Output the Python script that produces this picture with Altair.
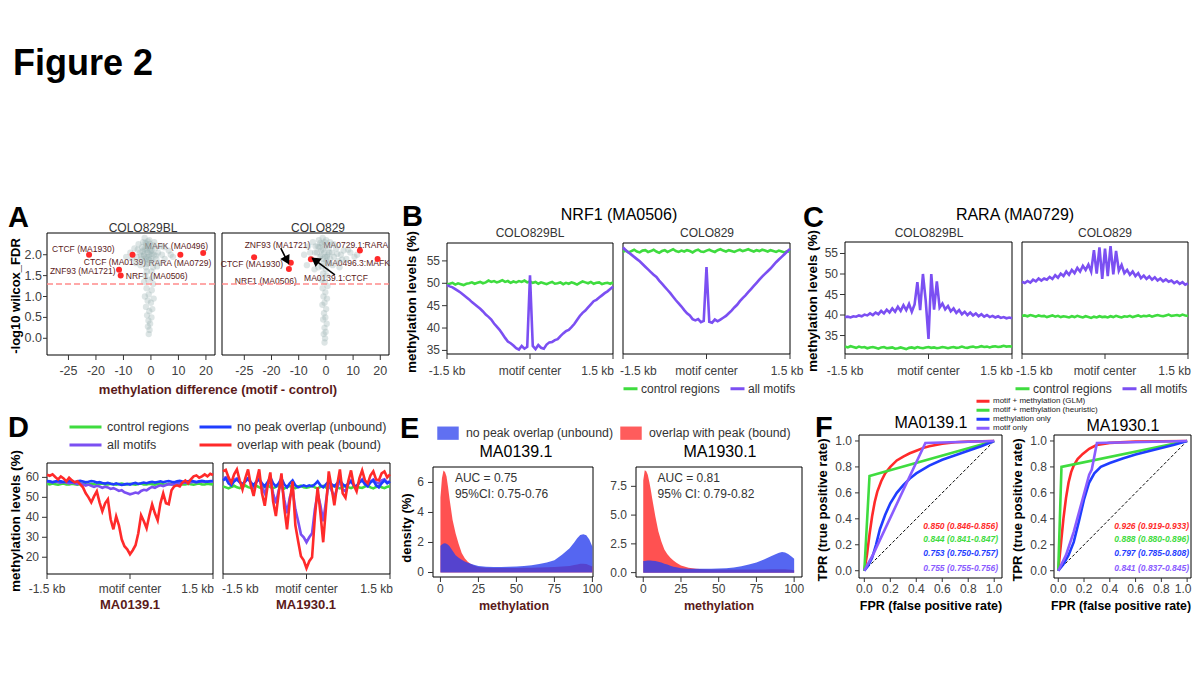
import altair as alt
import pandas as pd

W, H = 1184, 659                     # whole page minus the 8px body margin
FONT = "Liberation Sans"
GREEN, PURPLE, BLUE, RED = "#3fdc3f", "#7b4ff2", "#1f3dff", "#ff2a2a"
DARKRED = "#5a1a1a"
TICKLAB = "#404040"

positions = list(range(-1500, 1501, 50))   # bp around the motif centre (B, C, D)

# ---------------- A: methylation difference vs significance ----------------
a_bl_cloud_x = [-7.5, -6.0, -5.2, -4.5, -4.0, -3.5, -3.2, -2.8, -2.5, -2.2,
                -2.0, -1.7, -1.5, -1.2, -1.0, -0.8, -0.5, -0.3, 0.0, 0.3,
                0.6, 1.0, 1.5, 2.0, 2.6, 3.2, 4.0, 5.0, 6.5, 8.0,
                -9.0, -3.8, -1.8, 0.8, 2.2, -0.6, -2.3, 1.2, -5.5, 3.5,
                -3.0, -2.6, -2.0, -1.4, -0.9, -0.4, 0.4, -1.1, -2.4, -0.2,
                -3.6, 1.8, -4.8, -1.9, 0.9, -6.8, 4.8, 7.2, -0.7, -1.3,
                -1.5, 0.2, -2.0, 0.5, -1.0, -2.5, 0.8, -1.6, 0.3, -0.8,
                -2.2, 1.0, -1.2, 0.0, -1.8, 0.5, -0.6, -1.4, 0.2, -0.9,
                -0.3, -1.1, -0.5, -0.8]
a_bl_cloud_y = [2.05, 2.15, 1.95, 2.25, 2.05, 1.90, 2.18, 2.30, 2.00, 1.85,
                2.12, 2.25, 1.95, 2.05, 2.20, 1.80, 2.00, 2.15, 1.90, 2.10,
                1.85, 2.00, 2.15, 1.90, 2.05, 1.80, 2.00, 1.90, 2.10, 1.95,
                1.95, 1.75, 1.70, 1.70, 1.72, 2.35, 2.40, 2.30, 1.80, 2.20,
                2.08, 1.98, 2.28, 2.12, 1.95, 2.26, 2.02, 2.32, 2.14, 2.08,
                1.98, 1.98, 2.12, 1.90, 2.22, 1.92, 2.18, 2.00, 1.88, 1.78,
                1.60, 1.60, 1.50, 1.45, 1.40, 1.35, 1.30, 1.20, 1.15, 1.05,
                1.00, 0.95, 0.90, 0.85, 0.75, 0.70, 0.65, 0.55, 0.50, 0.42,
                0.35, 0.28, 0.20, 0.10]
a_c_cloud_x = [-8.0, -6.5, -5.5, -4.8, -4.0, -3.5, -3.0, -2.6, -2.2, -1.8,
               -1.4, -1.0, -0.6, -0.2, 0.2, 0.6, 1.0, 1.6, 2.2, 3.0,
               3.8, 4.5, 5.5, 6.5, 7.5, 9.0, 10.5, -7.0, -2.8, 0.0,
               2.5, -1.2, 1.5, -4.2, 5.0,
               -3.3, -2.4, -1.7, -1.1, -0.5, 0.4, 1.2, -2.0, -0.9, 0.8,
               -3.8, 2.8, -5.8, 4.2, 6.0, 8.2, -1.5, 0.1, -0.3, 11.5,
               -1.0, 0.3, -1.6, -0.4, 0.6, -1.2, -0.2, -0.9, 0.4, -0.5,
               -1.3, 0.1, -0.7, -0.2, -1.0, 0.3, -0.5, -0.1, -0.8, -0.3, -0.5]
a_c_cloud_y = [2.00, 2.20, 1.90, 2.30, 2.05, 1.85, 2.20, 2.35, 1.95, 2.10,
               2.25, 1.90, 2.05, 2.20, 1.85, 2.00, 2.15, 1.90, 2.05, 1.95,
               2.15, 1.85, 2.00, 2.10, 1.90, 2.05, 1.95, 1.75, 1.70, 1.65,
               1.75, 2.40, 2.30, 1.65, 1.70,
               2.05, 2.18, 1.98, 2.12, 2.30, 1.95, 2.05, 2.28, 1.80, 1.78,
               2.20, 2.25, 2.05, 2.02, 1.88, 2.12, 1.72, 2.35, 1.95, 2.00,
               1.55, 1.50, 1.40, 1.35, 1.25, 1.20, 1.10, 1.00, 0.95, 0.85,
               0.80, 0.70, 0.60, 0.50, 0.45, 0.35, 0.25, 0.15, 0.10, 0.00, -0.10]

a_bl_hits = ["CTCF (MA1930)", "CTCF (MA0139)", "ZNF93 (MA1721)",
             "NRF1 (MA0506)", "MAFK (MA0496)", "RARA (MA0729)"]
a_bl_hit_x = [-22.5, -6.7, -11.6, -11.0, 19.0, 10.7]
a_bl_hit_y = [2.00, 2.00, 1.64, 1.50, 2.04, 2.00]
a_bl_lab_x = [-24.6, -13.1, -24.8, 2.1, 9.3, 10.5]
a_bl_lab_y = [2.13, 1.82, 1.60, 1.49, 2.22, 1.81]

a_c_hits = ["CTCF (MA1930)", "ZNF93 (MA1721)", "NRF1 (MA0506)",
            "MA0139.1:CTCF", "MA0729.1:RARA", "MA0496.3:MAFK"]
a_c_hit_x = [-26.4, -12.9, -13.6, -5.5, 12.5, 19.0]
a_c_hit_y = [1.94, 1.81, 1.66, 1.89, 2.10, 1.90]
a_c_lab_x = [-27.2, -17.8, -22.1, 3.7, 11.0, 11.6]
a_c_lab_y = [1.77, 2.24, 1.36, 1.44, 2.24, 1.80]

arrow_x = [-16.6, 3.3]
arrow_y = [2.16, 1.52]
arrow_x2 = [-14.3, -4.0]
arrow_y2 = [1.86, 1.87]
arrow_angle = [152, 306]

FDR_CUTOFF = 1.3
a_xticks = [-30, -20, -10, 0, 10, 20]
a_xlabels = ["-25", "-20", "-10", "0", "10", "20"]
a_yticks = [0, 0.5, 1.0, 1.5, 2.0]

# ---------------- B: NRF1 (MA0506) profiles ----------------
b_bl_ctrl = [49.8, 49.9, 50.1, 49.7, 50.0, 49.8, 49.6, 49.9, 50.0, 50.2,
             49.9, 50.1, 50.3, 50.0, 50.2, 50.6, 50.3, 50.5, 50.2, 50.4,
             50.7, 50.3, 50.5, 50.1, 50.4, 50.2, 50.5, 50.3, 50.6, 50.2,
             50.4, 50.1, 50.3, 49.9, 50.2, 50.0, 49.8, 50.1, 50.3, 49.9,
             50.0, 50.2, 49.8, 50.1, 49.9, 50.2, 50.0, 49.7, 50.1, 50.4,
             50.2, 50.0, 50.3, 49.9, 50.1, 50.2, 49.8, 50.0, 50.1, 49.9,
             50.2]
b_bl_motif = [49.6, 49.3, 49.1, 48.7, 48.3, 47.9, 47.4, 46.9, 46.4, 45.8,
              45.3, 44.8, 44.3, 43.7, 43.0, 42.5, 41.9, 41.0, 40.3, 39.6,
              38.7, 37.8, 37.0, 36.6, 36.1, 35.5, 35.2, 36.0, 35.4, 35.8,
              51.8, 36.0, 35.3, 36.2, 35.6, 35.4, 36.3, 36.8, 36.9, 37.3,
              37.5, 38.2, 38.8, 39.3, 39.6, 40.2, 40.9, 41.8, 42.7, 43.4,
              43.9, 44.6, 45.3, 46.0, 46.3, 46.8, 47.3, 47.8, 48.2, 48.7,
              49.2]
b_c_ctrl = [57.0, 57.3, 56.9, 57.2, 57.5, 57.1, 56.9, 57.3, 57.4, 57.0,
            57.2, 57.5, 57.1, 56.8, 57.2, 57.4, 57.0, 57.3, 57.6, 57.2,
            57.0, 57.3, 57.1, 57.4, 57.2, 56.9, 57.3, 57.5, 57.1, 57.0,
            57.3, 57.5, 57.2, 57.0, 57.4, 57.6, 57.3, 57.1, 57.4, 57.2,
            57.0, 57.3, 57.5, 57.2, 57.4, 57.6, 57.3, 57.1, 57.4, 57.2,
            57.5, 57.3, 57.1, 57.4, 57.2, 57.0, 57.3, 57.1, 56.9, 57.2,
            57.0]
b_c_motif = [58.0, 57.4, 56.9, 56.4, 55.9, 55.4, 54.9, 54.3, 53.7, 53.1,
             52.5, 51.9, 51.4, 50.6, 49.9, 49.2, 48.5, 47.8, 47.0, 46.2,
             45.5, 44.8, 44.0, 43.3, 42.8, 42.0, 41.7, 42.0, 41.3, 41.6,
             53.6, 41.4, 41.2, 41.9, 41.5, 41.9, 42.3, 42.7, 43.3, 43.9,
             44.6, 45.2, 46.0, 46.7, 47.3, 48.0, 48.7, 49.4, 50.1, 50.8,
             51.5, 52.1, 52.7, 53.3, 54.0, 54.7, 55.3, 55.9, 56.5, 57.1,
             57.7]

# ---------------- C: RARA (MA0729) profiles ----------------
c_bl_ctrl = [32.3, 32.1, 32.4, 32.2, 32.0, 32.3, 32.1, 32.2, 31.9, 32.1,
             32.2, 32.0, 31.8, 32.1, 32.2, 31.9, 32.0, 32.1, 31.8, 31.9,
             32.1, 31.9, 31.7, 32.0, 32.1, 31.9, 32.2, 32.0, 31.9, 32.1,
             32.2, 32.0, 32.1, 31.9, 32.0, 32.2, 32.1, 31.9, 32.1, 32.2,
             32.0, 32.1, 32.3, 32.1, 32.0, 32.2, 32.3, 32.1, 32.2, 32.4,
             32.2, 32.3, 32.1, 32.3, 32.4, 32.2, 32.3, 32.5, 32.3, 32.4,
             32.3]
c_bl_motif = [39.5, 39.6, 39.4, 39.7, 39.6, 39.9, 39.7, 40.1, 39.9, 40.4,
              40.0, 40.6, 40.2, 41.0, 40.4, 41.3, 40.6, 41.6, 40.8, 42.0,
              41.0, 42.4, 41.2, 42.7, 40.8, 42.6, 48.0, 41.2, 50.0, 43.5,
              34.2, 50.0, 41.3, 48.2, 41.8, 42.8, 41.4, 42.2, 40.9, 41.6,
              40.5, 41.2, 40.2, 40.8, 40.0, 40.6, 39.9, 40.4, 39.7, 40.2,
              39.6, 40.0, 39.5, 39.8, 39.4, 39.7, 39.3, 39.5, 39.2, 39.4,
              39.2]
c_c_ctrl = [39.8, 39.9, 39.7, 40.0, 39.8, 39.6, 39.9, 39.7, 39.8, 39.5,
            39.7, 39.9, 39.6, 39.8, 39.5, 39.7, 39.6, 39.4, 39.7, 39.5,
            39.8, 39.6, 39.4, 39.7, 39.5, 39.3, 39.6, 39.4, 39.7, 39.5,
            39.6, 39.4, 39.7, 39.5, 39.8, 39.6, 39.4, 39.7, 39.6, 39.8,
            39.5, 39.7, 39.9, 39.6, 39.8, 39.7, 39.9, 39.6, 39.8, 40.0,
            39.8, 39.7, 39.9, 40.1, 39.8, 39.9, 40.0, 39.8, 40.1, 39.9,
            39.8]
c_c_motif = [48.1, 47.8, 48.3, 47.9, 48.6, 48.2, 48.9, 48.4, 48.9, 48.6,
             49.3, 48.8, 49.7, 49.1, 50.1, 49.5, 50.6, 49.8, 51.0, 50.2,
             51.5, 50.6, 52.0, 51.0, 52.3, 50.6, 55.8, 50.1, 56.5, 48.8,
             56.2, 49.5, 56.8, 49.9, 55.6, 50.8, 52.2, 50.2, 51.0, 49.8,
             50.6, 49.5, 50.2, 49.0, 49.6, 48.8, 49.4, 48.6, 49.2, 48.4,
             48.9, 48.2, 48.7, 48.1, 48.4, 47.8, 48.2, 47.6, 48.0, 47.4,
             47.7]

profile_ticks = [-1500, 0, 1500]
profile_labels = ["-1.5 kb", "motif center", "1.5 kb"]
bc_yticks = [35, 40, 45, 50, 55]

# ---------------- D: CTCF motifs split by ChIP peak overlap ----------------
d1_ctrl = [56.8, 56.5, 56.9, 56.6, 56.3, 56.7, 56.9, 56.5, 56.4, 56.8,
           56.6, 56.3, 56.7, 56.9, 56.5, 56.4, 56.8, 56.6, 56.3, 56.7,
           56.9, 56.5, 56.4, 56.8, 56.6, 56.3, 56.7, 56.9, 56.5, 56.4,
           56.8, 56.6, 56.3, 56.7, 56.9, 56.5, 56.4, 56.8, 56.6, 56.3,
           56.7, 56.9, 56.5, 56.4, 56.8, 56.6, 56.3, 56.7, 56.9, 56.5,
           56.4, 56.8, 56.6, 56.3, 56.7, 56.9, 56.5, 56.4, 56.8, 56.6,
           56.5]
d1_motif = [58.0, 57.8, 57.5, 57.9, 57.6, 57.3, 57.7, 57.4, 57.0, 57.4,
            57.0, 56.6, 57.0, 56.5, 55.9, 56.4, 55.8, 55.2, 55.8, 55.4,
            54.8, 55.3, 55.0, 54.2, 54.6, 54.0, 53.2, 53.6, 52.5, 52.0,
            51.5, 51.9, 52.4, 52.0, 53.2, 53.8, 53.5, 54.5, 55.2, 54.8,
            55.5, 56.0, 55.6, 56.2, 56.6, 56.3, 56.8, 57.2, 56.9, 57.3,
            57.5, 57.2, 57.6, 57.8, 57.5, 57.8, 58.0, 57.7, 57.9, 58.1,
            58.0]
d1_unbound = [58.2, 58.0, 57.6, 57.9, 58.3, 58.0, 57.7, 57.9, 58.2, 57.8,
              57.6, 58.0, 58.3, 57.9, 57.5, 57.8, 58.2, 57.9, 57.4, 57.6,
              57.2, 56.9, 57.3, 56.8, 56.5, 57.0, 56.6, 56.2, 56.5, 56.8,
              56.4, 56.9, 57.2, 56.7, 57.0, 57.4, 57.1, 57.5, 57.8, 57.4,
              57.7, 58.0, 57.6, 57.9, 58.2, 57.8, 57.6, 58.0, 58.3, 57.9,
              57.7, 58.1, 58.4, 58.0, 57.7, 58.0, 58.3, 58.0, 57.8, 58.1,
              58.2]
d1_bound = [61.3, 60.8, 61.5, 60.2, 59.0, 60.5, 59.5, 58.0, 59.8, 58.5,
            57.5, 58.0, 56.5, 55.0, 52.0, 50.0, 47.5, 50.5, 53.0, 47.5,
            43.0, 47.0, 49.0, 39.0, 34.0, 40.5, 36.0, 29.0, 25.5, 24.0,
            21.5, 23.5, 26.0, 32.0, 41.0, 38.0, 34.5, 41.0, 46.5, 42.0,
            38.5, 47.0, 52.0, 47.0, 46.5, 53.5, 55.5, 56.0, 55.5, 57.5,
            58.5, 57.0, 59.0, 60.5, 61.0, 59.8, 60.5, 61.5, 60.5, 61.8,
            61.2]
d2_ctrl = [55.5, 55.0, 54.5, 55.2, 55.8, 55.0, 54.6, 55.3, 55.9, 55.1,
           54.7, 55.4, 55.8, 55.0, 54.5, 55.2, 56.0, 55.1, 54.6, 55.3,
           55.9, 55.0, 54.4, 55.2, 55.7, 55.0, 54.6, 55.4, 55.8, 55.1,
           54.8, 55.2, 55.9, 55.0, 54.5, 55.3, 55.7, 54.9, 54.6, 55.4,
           55.9, 55.0, 54.5, 55.2, 55.8, 55.1, 54.6, 55.3, 55.6, 54.9,
           54.7, 55.4, 55.8, 55.0, 54.5, 55.2, 55.7, 55.0, 54.6, 55.3,
           55.5]
d2_motif = [59.5, 60.0, 58.5, 57.5, 58.8, 59.5, 57.8, 56.5, 58.0, 59.5,
            57.0, 55.0, 57.5, 59.5, 55.0, 52.0, 56.0, 58.5, 52.0, 47.0,
            53.5, 57.5, 49.0, 42.0, 50.0, 54.0, 44.0, 38.0, 31.5, 30.0,
            27.5, 30.0, 32.0, 44.0, 52.0, 46.0, 38.0, 48.0, 57.5, 53.5,
            50.0, 54.5, 58.5, 54.0, 53.0, 56.5, 58.5, 56.0, 55.5, 57.5,
            59.0, 57.0, 56.5, 58.0, 59.0, 57.5, 57.0, 58.5, 59.0, 57.5,
            58.0]
d2_unbound = [58.5, 59.5, 57.0, 56.0, 58.0, 59.0, 57.5, 56.5, 58.0, 59.5,
              57.5, 56.0, 58.0, 59.0, 57.0, 55.5, 57.5, 60.0, 57.0, 55.5,
              57.0, 59.5, 56.5, 55.0, 57.0, 58.5, 56.0, 55.0, 55.5, 56.0,
              55.5, 56.0, 55.5, 56.5, 58.0, 56.0, 55.0, 56.5, 58.0, 56.5,
              55.5, 57.0, 58.5, 56.5, 55.5, 57.0, 58.0, 56.0, 55.5, 57.5,
              58.5, 56.5, 55.5, 57.5, 58.5, 56.0, 55.0, 57.0, 58.5, 57.0,
              58.0]
d2_bound = [63.0, 63.8, 60.0, 57.3, 61.5, 64.0, 58.5, 54.0, 59.5, 64.0,
            56.0, 50.7, 58.0, 64.0, 52.0, 45.8, 55.5, 62.5, 48.0, 40.6,
            52.0, 62.0, 45.0, 34.0, 48.0, 58.0, 36.0, 28.0, 20.5, 18.5,
            14.5, 18.0, 20.0, 40.0, 55.0, 42.0, 27.5, 45.0, 63.0, 55.0,
            46.0, 56.0, 64.0, 52.0, 49.8, 58.0, 63.5, 56.0, 53.0, 59.5,
            63.5, 58.5, 57.0, 61.0, 63.0, 59.0, 58.5, 62.0, 63.0, 60.0,
            61.5]
d_yticks = [20, 30, 40, 50, 60]

# ---------------- E: methylation density of bound / unbound motifs ----------------
e_meth = [0, 1, 2, 3, 4, 5, 6, 8, 10, 12, 14, 16, 18, 20, 22, 25, 30, 35, 40, 45,
          50, 55, 60, 65, 70, 75, 80, 85, 88, 90, 92, 94, 96, 98, 100]
e1_bound = [5.0, 6.3, 6.8, 6.7, 6.4, 5.7, 4.9, 3.5, 2.6, 1.9, 1.3, 0.95, 0.72, 0.56,
            0.46, 0.37, 0.32, 0.30, 0.30, 0.30, 0.30, 0.31, 0.32, 0.33, 0.35, 0.37,
            0.40, 0.44, 0.50, 0.54, 0.58, 0.59, 0.56, 0.49, 0.40]
e1_unbound = [1.78, 1.86, 1.93, 1.95, 1.92, 1.85, 1.75, 1.45, 1.15, 0.98, 0.85, 0.74,
              0.65, 0.58, 0.52, 0.44, 0.39, 0.37, 0.37, 0.38, 0.40, 0.43, 0.48, 0.56,
              0.66, 0.82, 1.18, 1.62, 2.00, 2.28, 2.50, 2.55, 2.48, 2.20, 1.72]
e2_bound = [8.0, 8.9, 8.8, 8.5, 7.9, 7.2, 6.4, 4.9, 3.6, 2.7, 2.0, 1.6, 1.3, 1.05,
            0.85, 0.62, 0.42, 0.34, 0.30, 0.28, 0.27, 0.27, 0.27, 0.27, 0.27, 0.27,
            0.28, 0.29, 0.30, 0.30, 0.30, 0.29, 0.27, 0.24, 0.20]
e2_unbound = [1.00, 1.02, 1.04, 1.05, 1.06, 1.05, 1.04, 1.00, 0.95, 0.88, 0.78, 0.70,
              0.60, 0.52, 0.46, 0.38, 0.34, 0.33, 0.33, 0.34, 0.36, 0.39, 0.45, 0.55,
              0.70, 0.88, 1.15, 1.45, 1.62, 1.72, 1.79, 1.76, 1.62, 1.42, 1.20]
e1_auc = ["AUC = 0.75", "95%CI: 0.75-0.76"]
e2_auc = ["AUC = 0.81", "95% CI: 0.79-0.82"]
e_xticks = [0, 25, 50, 75, 100]
e1_yticks = [0, 2, 4, 6]
e2_yticks = [0, 2.5, 5.0, 7.5]

# ---------------- F: ROC curves ----------------
roc_methods = ["motif + methylation (GLM)", "motif + methylation (heuristic)",
               "methylation only", "motif only"]
f1_fpr = {
    "glm": [0, 0.02, 0.04, 0.06, 0.08, 0.10, 0.13, 0.16, 0.20, 0.25, 0.30, 0.35, 0.40,
            0.45, 0.50, 0.60, 0.70, 0.80, 0.90, 1.0],
    "heur": [0, 0.04, 1.0],
    "meth": [0, 0.03, 0.06, 0.09, 0.12, 0.16, 0.20, 0.25, 0.30, 0.35, 0.40, 0.50, 0.60,
             0.70, 0.80, 0.90, 1.0],
    "motif": [0, 0.07, 0.47, 1.0],
}
f1_tpr = {
    "glm": [0, 0.12, 0.28, 0.42, 0.53, 0.61, 0.69, 0.75, 0.80, 0.85, 0.88, 0.905, 0.925,
            0.945, 0.96, 0.978, 0.99, 0.995, 0.998, 1.0],
    "heur": [0, 0.73, 1.0],
    "meth": [0, 0.04, 0.10, 0.20, 0.32, 0.43, 0.52, 0.60, 0.66, 0.71, 0.75, 0.81, 0.855,
             0.89, 0.925, 0.96, 1.0],
    "motif": [0, 0.13, 0.985, 1.0],
}
f2_fpr = {
    "glm": [0, 0.02, 0.04, 0.06, 0.08, 0.10, 0.12, 0.15, 0.19, 0.24, 0.30, 0.40, 0.60, 1.0],
    "heur": [0, 0.025, 1.0],
    "meth": [0, 0.04, 0.08, 0.12, 0.16, 0.20, 0.24, 0.28, 0.33, 0.40, 0.50, 0.60, 0.70,
             0.80, 0.90, 1.0],
    "motif": [0, 0.06, 0.12, 0.18, 0.24, 0.26, 0.30, 1.0],
}
f2_tpr = {
    "glm": [0, 0.20, 0.40, 0.56, 0.68, 0.76, 0.81, 0.86, 0.90, 0.94, 0.97, 0.985, 0.995, 1.0],
    "heur": [0, 0.80, 1.0],
    "meth": [0, 0.05, 0.12, 0.22, 0.38, 0.55, 0.68, 0.75, 0.80, 0.83, 0.865, 0.895, 0.92,
             0.945, 0.97, 1.0],
    "motif": [0, 0.12, 0.30, 0.52, 0.74, 0.78, 0.985, 1.0],
}
f1_auc = ["0.850 (0.846-0.856)", "0.844 (0.841-0.847)", "0.753 (0.750-0.757)", "0.755 (0.755-0.756)"]
f2_auc = ["0.926 (0.919-0.933)", "0.888 (0.880-0.896)", "0.797 (0.785-0.808)", "0.841 (0.837-0.845)"]
f_ticks = [0, 0.2, 0.4, 0.6, 0.8, 1.0]

# ---------------- layout: every panel gets its own pixel box ----------------
GEOM = {
    "A1": dict(px=(47, 215), py=(355, 233), xd=(-37.8, 23.3), yd=(-0.4, 2.52)),
    "A2": dict(px=(222, 389), py=(355, 233), xd=(-38.2, 23.2), yd=(-0.4, 2.52)),
    "B1": dict(px=(447, 613), py=(354, 243), xd=(-1500, 1500), yd=(34.2, 59.0)),
    "B2": dict(px=(623, 790), py=(354, 243), xd=(-1500, 1500), yd=(34.2, 59.0)),
    "C1": dict(px=(845, 1012), py=(354, 242), xd=(-1500, 1500), yd=(30.5, 57.8)),
    "C2": dict(px=(1022, 1188), py=(354, 242), xd=(-1500, 1500), yd=(30.5, 57.8)),
    "D1": dict(px=(47, 213), py=(574, 463), xd=(-1500, 1500), yd=(11.6, 67.2)),
    "D2": dict(px=(223, 390), py=(574, 463), xd=(-1500, 1500), yd=(11.6, 67.2)),
    "E1": dict(px=(433, 593), py=(577, 467), xd=(-4.9, 100.4), yd=(-0.3, 7.03)),
    "E2": dict(px=(636, 802), py=(577, 467), xd=(-4.8, 105.2), yd=(-0.38, 9.18)),
    "F1": dict(px=(859, 1002), py=(578, 435), xd=(-0.041, 1.06), yd=(-0.056, 1.046)),
    "F2": dict(px=(1054, 1191), py=(578, 435), xd=(-0.033, 1.03), yd=(-0.056, 1.046)),
}
# how the "-1.5 kb / motif center / 1.5 kb" labels sit against the frame edges
LEFT_PANEL_LABELS = dict(aligns=["center", "center", "right"], shifts=[0, 0, 1])


def sx(g):
    return alt.Scale(domain=list(g["xd"]), range=[g["px"][0] - 8, g["px"][1] - 8], nice=False, zero=False)


def sy(g):
    return alt.Scale(domain=list(g["yd"]), range=[g["py"][0] - 8, g["py"][1] - 8], nice=False, zero=False)


def X(g, field):
    return alt.X(field, scale=sx(g), axis=None)


def Y(g, field):
    return alt.Y(field, scale=sy(g), axis=None)


def frame(g):
    box = pd.DataFrame({"x0": [g["xd"][0]], "x1": [g["xd"][1]], "y0": [g["yd"][0]], "y1": [g["yd"][1]]})
    return alt.Chart(box).mark_rect(fillOpacity=0, stroke="black", strokeWidth=1).encode(
        x=X(g, "x0:Q"), x2="x1", y=Y(g, "y0:Q"), y2="y1")


def xticks(g, values, labels, pad=3, tick=5, size=12, aligns=None, shifts=None):
    n = len(values)
    aligns = aligns or ["center"] * n
    shifts = shifts or [0] * n
    df = pd.DataFrame({"v": values, "lab": labels, "y": [g["yd"][0]] * n})
    layers = [alt.Chart(df).mark_rule(color="#333333", strokeWidth=1, y2Offset=tick).encode(
        x=X(g, "v:Q"), y=Y(g, "y:Q"), y2="y")]
    for i in range(n):
        layers.append(alt.Chart(df.iloc[[i]]).mark_text(
            font=FONT, fontSize=size, color=TICKLAB, baseline="top", align=aligns[i],
            dx=shifts[i], dy=tick + pad).encode(x=X(g, "v:Q"), y=Y(g, "y:Q"), text="lab:N"))
    return layers


def yticks(g, values, labels, pad=2, tick=5, size=12):
    df = pd.DataFrame({"v": values, "lab": labels, "x": [g["xd"][0]] * len(values)})
    ticks = alt.Chart(df).mark_rule(color="#333333", strokeWidth=1, x2Offset=-tick).encode(
        x=X(g, "x:Q"), x2="x", y=Y(g, "v:Q"))
    labs = alt.Chart(df).mark_text(font=FONT, fontSize=size, color=TICKLAB, align="right",
                                   baseline="middle", dx=-(tick + pad)).encode(
        x=X(g, "x:Q"), y=Y(g, "v:Q"), text="lab:N")
    return [ticks, labs]


def label(text, px, py, size, bold=False, color="black", align="center", baseline="middle", angle=0):
    return alt.Chart(pd.DataFrame({"t": [text]})).mark_text(
        font=FONT, fontSize=size, fontWeight="bold" if bold else "normal", color=color,
        align=align, baseline=baseline, angle=angle).encode(
        text="t:N", x=alt.value(px - 8), y=alt.value(py - 8))


def scatter_panel(g, cx, cy, hits, hx, hy, lx, ly, arrows=False):
    layers = [frame(g)]
    names = pd.DataFrame({"name": hits, "x": lx, "y": ly})
    layers.append(alt.Chart(names).mark_text(font=FONT, fontSize=8.5, color=DARKRED).encode(
        x=X(g, "x:Q"), y=Y(g, "y:Q"), text="name:N"))
    cloud = pd.DataFrame({"x": cx, "y": cy})
    layers.append(alt.Chart(cloud).mark_circle(size=40, opacity=0.33, color="#98b0b0").encode(
        x=X(g, "x:Q"), y=Y(g, "y:Q")))
    cut = pd.DataFrame({"x0": [g["xd"][0]], "x1": [g["xd"][1]], "y": [FDR_CUTOFF]})
    layers.append(alt.Chart(cut).mark_rule(color="#ff8c8c", strokeDash=[6, 3], strokeWidth=1.5).encode(
        x=X(g, "x0:Q"), x2="x1", y=Y(g, "y:Q")))
    pts = pd.DataFrame({"x": hx, "y": hy})
    layers.append(alt.Chart(pts).mark_circle(size=36, opacity=1, color=RED).encode(
        x=X(g, "x:Q"), y=Y(g, "y:Q")))
    if arrows:
        arr = pd.DataFrame({"x": arrow_x, "y": arrow_y, "x2": arrow_x2, "y2": arrow_y2, "ang": arrow_angle})
        layers.append(alt.Chart(arr).mark_rule(color="black", strokeWidth=1.6).encode(
            x=X(g, "x:Q"), y=Y(g, "y:Q"), x2="x2", y2="y2"))
        layers.append(alt.Chart(arr).mark_point(shape="triangle-up", filled=True, color="black",
                                                size=110, opacity=1).encode(
            x=X(g, "x2:Q"), y=Y(g, "y2:Q"), angle=alt.Angle("ang:Q", scale=None)))
    layers += xticks(g, a_xticks, a_xlabels, pad=5, size=12.5)
    return layers


def profile_panel(g, names, series, domain, colors, legend=None):
    layers = [frame(g)]
    for k, (name, vals) in enumerate(zip(names, series)):
        df = pd.DataFrame({"pos": positions, "val": vals, "series": name})
        layers.append(alt.Chart(df).mark_line(strokeWidth=2.6).encode(
            x=X(g, "pos:Q"), y=Y(g, "val:Q"),
            color=alt.Color("series:N", scale=alt.Scale(domain=domain, range=colors),
                            legend=legend if k == 0 else None)))
    return layers


UNB, BND = "no peak overlap (unbound)", "overlap with peak (bound)"


def density_panel(g, bound, unbound, auc, legend=None):
    cs = alt.Scale(domain=[UNB, BND], range=["#2b40ee", "#ff2626"])
    red = alt.Chart(pd.DataFrame({"m": e_meth, "d": bound, "g": BND})).mark_area(opacity=0.8).encode(
        x=X(g, "m:Q"), y=Y(g, "d:Q"), y2=alt.datum(0), color=alt.Color("g:N", scale=cs, legend=legend))
    blue = alt.Chart(pd.DataFrame({"m": e_meth, "d": unbound, "g": UNB})).mark_area(opacity=0.8).encode(
        x=X(g, "m:Q"), y=Y(g, "d:Q"), y2=alt.datum(0), color=alt.Color("g:N", scale=cs, legend=None))
    top = g["yd"][1]
    txt = pd.DataFrame({"t": auc, "m": [9.5, 9.5], "d": [top * 0.895, top * 0.745]})
    note = alt.Chart(txt).mark_text(font=FONT, fontSize=12, align="left", color="#333333").encode(
        x=X(g, "m:Q"), y=Y(g, "d:Q"), text="t:N")
    return [frame(g), red, blue, note]


def roc_panel(g, fpr, tpr, auc, auc_right, last_label_shift=0, legend=None):
    cs = alt.Scale(domain=roc_methods, range=[RED, GREEN, BLUE, "#8a5cff"])
    layers = [frame(g)]
    diag = pd.DataFrame({"a": [0.0], "b": [1.0]})
    layers.append(alt.Chart(diag).mark_rule(color="black", strokeDash=[3, 2], strokeWidth=1).encode(
        x=X(g, "a:Q"), y=Y(g, "a:Q"), x2="b", y2="b"))
    for k, (key, name) in enumerate(zip(["glm", "heur", "meth", "motif"], roc_methods)):
        df = pd.DataFrame({"fpr": fpr[key], "tpr": tpr[key], "method": name})
        df["i"] = range(len(df))
        layers.append(alt.Chart(df).mark_line(strokeWidth=2.6).encode(
            x=X(g, "fpr:Q"), y=Y(g, "tpr:Q"), order="i:Q",
            color=alt.Color("method:N", scale=cs, legend=legend if k == 0 else None)))
    txt = pd.DataFrame({"t": auc, "method": roc_methods, "y": [0.344, 0.244, 0.134, 0.023]})
    layers.append(alt.Chart(txt).mark_text(font=FONT, fontSize=8.5, fontStyle="italic", fontWeight="bold",
                                           align="right").encode(
        x=alt.value(auc_right - 8), y=Y(g, "y:Q"), text="t:N",
        color=alt.Color("method:N", scale=cs, legend=None)))
    flab = [f"{v:.1f}" for v in f_ticks]
    shifts = [0] * (len(f_ticks) - 1) + [last_label_shift]
    layers += xticks(g, f_ticks, flab, pad=1.5, tick=4, shifts=shifts)
    layers += yticks(g, f_ticks, flab, pad=3, tick=4)
    return layers


G = GEOM
leg_line = dict(orient="none", title=None, direction="horizontal", symbolType="stroke",
                symbolStrokeWidth=3, labelFont=FONT, labelColor="#333333", padding=0)
bc_leg = dict(symbolSize=196, labelFontSize=12, columnPadding=4, labelOffset=2, **leg_line)

# ---- A ----
A1 = scatter_panel(G["A1"], a_bl_cloud_x, a_bl_cloud_y, a_bl_hits, a_bl_hit_x, a_bl_hit_y,
                   a_bl_lab_x, a_bl_lab_y)
A1 += yticks(G["A1"], a_yticks, [f"{v:.1f}" for v in a_yticks], pad=1, tick=4, size=12.5)
A2 = scatter_panel(G["A2"], a_c_cloud_x, a_c_cloud_y, a_c_hits, a_c_hit_x, a_c_hit_y,
                   a_c_lab_x, a_c_lab_y, arrows=True)

# ---- B, C ----
bc_dom = ["control regions", "all motifs"]
bc_col = [GREEN, PURPLE]
bc_ylab = [str(v) for v in bc_yticks]
B1 = profile_panel(G["B1"], bc_dom, [b_bl_ctrl, b_bl_motif], bc_dom, bc_col)
B1 += xticks(G["B1"], profile_ticks, profile_labels, pad=7, **LEFT_PANEL_LABELS) + \
    yticks(G["B1"], bc_yticks, bc_ylab)
B2 = profile_panel(G["B2"], bc_dom, [b_c_ctrl, b_c_motif], bc_dom, bc_col,
                   legend=alt.Legend(legendX=614, legendY=372, **bc_leg))
B2 += xticks(G["B2"], profile_ticks, profile_labels, pad=7,
             aligns=["left", "center", "center"], shifts=[-3, 0, -3])
C1 = profile_panel(G["C1"], bc_dom, [c_bl_ctrl, c_bl_motif], bc_dom, bc_col)
C1 += xticks(G["C1"], profile_ticks, profile_labels, pad=7, **LEFT_PANEL_LABELS) + \
    yticks(G["C1"], bc_yticks, bc_ylab)
C2 = profile_panel(G["C2"], bc_dom, [c_c_ctrl, c_c_motif], bc_dom, bc_col,
                   legend=alt.Legend(legendX=1006, legendY=372, **bc_leg))
C2 += xticks(G["C2"], profile_ticks, profile_labels, pad=7,
             aligns=["left", "center", "right"], shifts=[-6, 0, 3])

# ---- D ----
d_dom = ["control regions", UNB, "all motifs", BND]
d_col = [GREEN, BLUE, PURPLE, RED]
d_names = ["control regions", "all motifs", UNB, BND]
D1 = profile_panel(G["D1"], d_names, [d1_ctrl, d1_motif, d1_unbound, d1_bound], d_dom, d_col,
                   legend=alt.Legend(legendX=60, legendY=412, columns=2, symbolSize=1024,
                                     labelFontSize=12.5, columnPadding=9, rowPadding=4, clipHeight=14,
                                     labelOffset=4, **leg_line))
D1 += xticks(G["D1"], profile_ticks, profile_labels, pad=5, **LEFT_PANEL_LABELS) + \
    yticks(G["D1"], d_yticks, [str(v) for v in d_yticks], pad=3)
D2 = profile_panel(G["D2"], d_names, [d2_ctrl, d2_motif, d2_unbound, d2_bound], d_dom, d_col)
D2 += xticks(G["D2"], profile_ticks, profile_labels, pad=5,
             aligns=["left", "center", "right"], shifts=[-1, 0, 3])

# ---- E ----
E1 = density_panel(G["E1"], e1_bound, e1_unbound, e1_auc,
                   legend=alt.Legend(orient="none", legendX=429, legendY=414, title=None,
                                     direction="horizontal", symbolType="M-1,-0.62H1V0.62H-1Z",
                                     symbolSize=460, symbolOpacity=0.75, symbolStrokeWidth=0,
                                     labelFont=FONT, labelFontSize=12.3, labelColor="#333333",
                                     labelOffset=7, columnPadding=7, padding=0))
E1 += xticks(G["E1"], e_xticks, [str(v) for v in e_xticks], pad=1.5) + \
    yticks(G["E1"], e1_yticks, [str(v) for v in e1_yticks], pad=4)
E2 = density_panel(G["E2"], e2_bound, e2_unbound, e2_auc)
E2 += xticks(G["E2"], e_xticks, [str(v) for v in e_xticks], pad=1.5) + \
    yticks(G["E2"], e2_yticks, [f"{v:.1f}" for v in e2_yticks], pad=4)

# ---- F ----
F1 = roc_panel(G["F1"], f1_fpr, f1_tpr, f1_auc, 998,
               legend=alt.Legend(orient="none", legendX=967, legendY=389, title=None, direction="vertical",
                                 symbolType="stroke", symbolSize=169, symbolStrokeWidth=3,
                                 labelFont=FONT, labelFontSize=8, labelColor="#222222", labelOffset=2,
                                 clipHeight=8.3, rowPadding=0, padding=0))
F2 = roc_panel(G["F2"], f2_fpr, f2_tpr, f2_auc, 1189, last_label_shift=-4)

panels = [alt.layer(*p) for p in [A1, A2, B1, B2, C1, C2, D1, D2, E1, E2, F1, F2]]

# ---- headings, panel letters and axis titles ----
texts = [
    label("Figure 2", 13, 75, 36, bold=True, align="left", baseline="alphabetic"),
    label("A", 8, 227, 29, bold=True, align="left", baseline="alphabetic"),
    label("B", 402, 226, 29, bold=True, align="left", baseline="alphabetic"),
    label("C", 803, 227, 29, bold=True, align="left", baseline="alphabetic"),
    label("D", 8, 437, 29, bold=True, align="left", baseline="alphabetic"),
    label("E", 400, 438, 29, bold=True, align="left", baseline="alphabetic"),
    label("F", 815, 437, 29, bold=True, align="left", baseline="alphabetic"),
    label("COLO829BL", 143, 228, 12, color="#333333"),
    label("COLO829", 318, 228, 12, color="#333333"),
    label("NRF1 (MA0506)", 619, 215, 16),
    label("COLO829BL", 530, 233, 12, color="#333333"),
    label("COLO829", 707, 233, 12, color="#333333"),
    label("RARA (MA0729)", 1015, 215, 16),
    label("COLO829BL", 929, 233, 12, color="#333333"),
    label("COLO829", 1105, 233, 12, color="#333333"),
    label("MA0139.1", 516, 452, 16),
    label("MA1930.1", 720, 452, 16),
    label("MA0139.1", 931, 423, 16),
    label("MA1930.1", 1123, 426, 16),
    # axis titles
    label("methylation difference (motif - control)", 218, 390, 13, bold=True, color=DARKRED),
    label("-log10 wilcox_FDR", 16, 296, 13, bold=True, angle=270),
    label("methylation levels (%)", 412, 302, 13.5, bold=True, angle=270),
    label("methylation levels (%)", 813, 301, 13.5, bold=True, angle=270),
    label("methylation levels (%)", 16, 521, 13.5, bold=True, angle=270),
    label("MA0139.1", 130, 605, 13, bold=True, color=DARKRED),
    label("MA1930.1", 306, 605, 13, bold=True, color=DARKRED),
    label("density (%)", 407, 528, 13, bold=True, angle=270),
    label("methylation", 514, 606, 12.5, bold=True, color=DARKRED),
    label("methylation", 719, 606, 12.5, bold=True, color=DARKRED),
    label("FPR (false positive rate)", 931, 606, 12.5, bold=True),
    label("FPR (false positive rate)", 1121, 606, 12.3, bold=True),
    label("TPR (true positive rate)", 823, 510, 13, bold=True, angle=270),
    label("TPR (true positive rate)", 1018, 510, 13, bold=True, angle=270),
]

chart = alt.layer(*panels, *texts).resolve_scale(
    x="independent", y="independent", color="independent"
).resolve_legend(
    color="independent"
).properties(
    width=W, height=H, padding=0, autosize=alt.AutoSizeParams(type="none")
).configure_view(stroke=None)

chart.save("out.html", embed_options={"renderer": "svg", "actions": False})
